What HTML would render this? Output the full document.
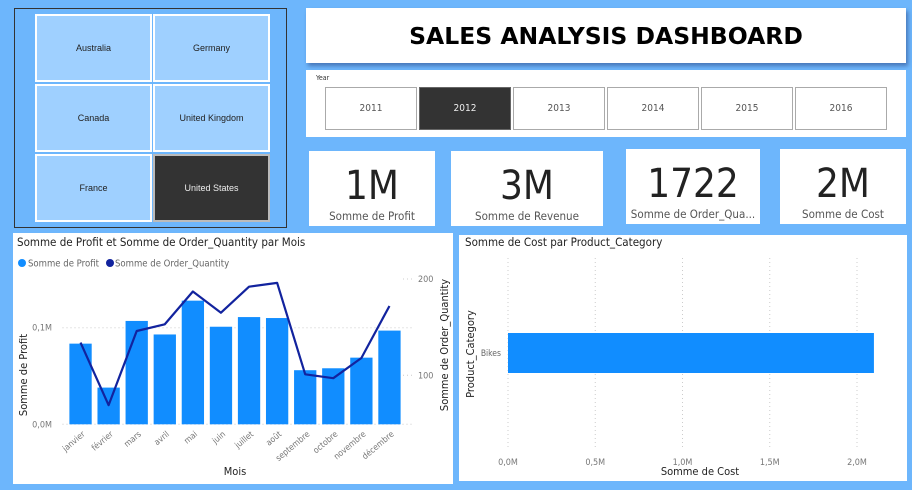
<!DOCTYPE html>
<html><head><meta charset="utf-8"><style>
body{margin:0;width:912px;height:490px;background:#6db6fc;font-family:"DejaVu Sans Condensed","Liberation Sans",sans-serif;position:relative;overflow:hidden}
.abs{position:absolute}
.box{position:absolute;background:#fff}
.tile{position:absolute;background:#9fd0ff;border:2px solid #fff;box-sizing:border-box;display:flex;align-items:center;justify-content:center;font-size:9px;color:#222;font-family:"Liberation Sans",sans-serif}
.yr{position:absolute;top:17px;width:92px;height:43px;border:1.5px solid #aaa;box-sizing:border-box;display:flex;align-items:center;justify-content:center;font-size:10px;color:#555;background:#fff}
.card{position:absolute;background:#fff;text-align:center;overflow:hidden}
.card .v{font-size:40px;color:#222;margin-top:12px;line-height:46px}
.card .l{font-size:11.5px;color:#555;white-space:nowrap}
</style></head><body>
<div class="abs" style="left:14px;top:8px;width:273px;height:220px;border:1px solid #333;box-sizing:border-box;background:#6db6fc">
<div class="tile" style="left:20px;top:5px;width:117px;height:68px">Australia</div>
<div class="tile" style="left:138px;top:5px;width:117px;height:68px">Germany</div>
<div class="tile" style="left:20px;top:75px;width:117px;height:68px">Canada</div>
<div class="tile" style="left:138px;top:75px;width:117px;height:68px">United Kingdom</div>
<div class="tile" style="left:20px;top:145px;width:117px;height:68px">France</div>
<div class="tile" style="left:138px;top:145px;width:117px;height:68px;background:#333;border-color:#bbb;color:#eee">United States</div>
</div>
<div class="box" style="left:306px;top:8px;width:600px;height:55px;display:flex;align-items:center;justify-content:center;box-shadow:2px 3px 4px rgba(0,0,60,.35)"><span style="font-family:'DejaVu Sans','Liberation Sans',sans-serif;font-weight:bold;font-size:23.5px;color:#000">SALES ANALYSIS DASHBOARD</span></div>
<div class="box" style="left:306px;top:70px;width:600px;height:67px">
<div class="abs" style="left:10px;top:4px;font-size:7px;color:#333">Year</div>
<div class="yr" style="left:19px">2011</div>
<div class="yr" style="left:113px;background:#333;color:#eee;border-color:#666">2012</div>
<div class="yr" style="left:207px">2013</div>
<div class="yr" style="left:301px">2014</div>
<div class="yr" style="left:395px">2015</div>
<div class="yr" style="left:489px">2016</div>
</div>
<div class="card" style="left:309px;top:151px;width:126px;height:75px"><div class="v">1M</div><div class="l">Somme de Profit</div></div>
<div class="card" style="left:451px;top:151px;width:152px;height:75px"><div class="v">3M</div><div class="l">Somme de Revenue</div></div>
<div class="card" style="left:626px;top:149px;width:134px;height:75px"><div class="v">1722</div><div class="l">Somme de Order_Qua...</div></div>
<div class="card" style="left:780px;top:149px;width:126px;height:75px"><div class="v">2M</div><div class="l">Somme de Cost</div></div>
<div class="box" style="left:13px;top:233px;width:440px;height:251px"></div>
<div class="box" style="left:459px;top:235px;width:448px;height:246px"></div>
<svg class="abs" style="left:0;top:0" width="912" height="490" id="svg" font-family="DejaVu Sans Condensed, Liberation Sans, sans-serif"></svg>
<script>
const months=["janvier","février","mars","avril","mai","juin","juillet","août","septembre","octobre","novembre","décembre"];
const profit=[0.0835,0.038,0.107,0.093,0.128,0.101,0.111,0.110,0.056,0.058,0.069,0.097];
const quantity=[134,69,146,153,187,165,192,196,101,97,118,172];
const profitTicks=[0,0.1];
const profitTickLabels=["0,0M","0,1M"];
const qtyTicks=[100,200];
const categories=["Bikes"];
const cost=[2.097];
const costTicks=[0,0.5,1,1.5,2];
const costTickLabels=["0,0M","0,5M","1,0M","1,5M","2,0M"];

const svg=document.getElementById('svg');
const NS='http://www.w3.org/2000/svg';
function mk(tag,attrs,txt){const e=document.createElementNS(NS,tag);for(const k in attrs)e.setAttribute(k,attrs[k]);if(txt!==undefined)e.textContent=txt;svg.appendChild(e);return e;}
const pL=66.5,pR=403.5,band=(pR-pL)/months.length;
const yP=v=>424.3-v*966;
const yQ=v=>375.3-(v-100)*0.963;
const xB=i=>pL+band*i+band/2;
let t;
t=mk('text',{x:17,y:246,'font-size':11.5,fill:'#222'},'Somme de Profit et Somme de Order_Quantity par Mois');

t=mk('circle',{cx:22,cy:263,r:4,fill:'#118dff'});
t=mk('text',{x:28,y:266.5,'font-size':9.5,fill:'#666'},'Somme de Profit');
t=mk('circle',{cx:110,cy:263,r:4,fill:'#12239e'});
t=mk('text',{x:115,y:266.5,'font-size':9.5,fill:'#666'},'Somme de Order_Quantity');
profitTicks.forEach((v,i)=>{
 t=mk('line',{x1:pL-4,x2:pR+10,y1:yP(v),y2:yP(v),stroke:'#ccc','stroke-dasharray':'1,3'});
 t=mk('text',{x:52,y:yP(v)+3,'font-size':9,fill:'#777','text-anchor':'end'},profitTickLabels[i]);
});
qtyTicks.forEach(v=>{
 t=mk('text',{x:418,y:yQ(v)+3,'font-size':9,fill:'#777'},String(v));
 t=mk('line',{x1:403,x2:413,y1:yQ(v),y2:yQ(v),stroke:'#ccc','stroke-dasharray':'1,3'});
});
months.forEach((m,i)=>{
 const bw=22.3,x=xB(i)-bw/2,y=yP(profit[i]);
 t=mk('rect',{x:x,y:y,width:bw,height:yP(0)-y,fill:'#118dff'});
 t=mk('text',{x:xB(i)+5,y:435,'font-size':8.5,fill:'#777','text-anchor':'end',transform:`rotate(-40 ${xB(i)+5} 435)`},m);
});
const pts=quantity.map((q,i)=>xB(i)+','+yQ(q)).join(' ');
t=mk('polyline',{points:pts,fill:'none',stroke:'#12239e','stroke-width':2.2,'stroke-linejoin':'round'});
t=mk('text',{x:235,y:475,'font-size':11,fill:'#222','text-anchor':'middle'},'Mois');
t=mk('text',{x:0,y:0,'font-size':11,fill:'#222','text-anchor':'middle',transform:'translate(27 375) rotate(-90)'},'Somme de Profit');
t=mk('text',{x:0,y:0,'font-size':11,fill:'#222','text-anchor':'middle',transform:'translate(448 345) rotate(-90)'},'Somme de Order_Quantity');
const x0=508,xs=(857-508)/2;
const xC=v=>x0+v*xs;
t=mk('text',{x:465,y:246,'font-size':11.5,fill:'#222'},'Somme de Cost par Product_Category');
costTicks.forEach((v,i)=>{
 t=mk('line',{x1:xC(v),x2:xC(v),y1:258,y2:450,stroke:'#ccc','stroke-dasharray':'1,3'});
 t=mk('text',{x:xC(v),y:465,'font-size':9,fill:'#777','text-anchor':'middle'},costTickLabels[i]);
});
categories.forEach((c,i)=>{
 t=mk('rect',{x:xC(0),y:333,width:xC(cost[i])-xC(0),height:40,fill:'#118dff'});
 t=mk('text',{x:501,y:356,'font-size':8.5,fill:'#666','text-anchor':'end'},c);
});
t=mk('text',{x:700,y:475,'font-size':11,fill:'#222','text-anchor':'middle'},'Somme de Cost');
t=mk('text',{x:0,y:0,'font-size':11,fill:'#222','text-anchor':'middle',transform:'translate(474 354) rotate(-90)'},'Product_Category');
</script>
</body></html>
